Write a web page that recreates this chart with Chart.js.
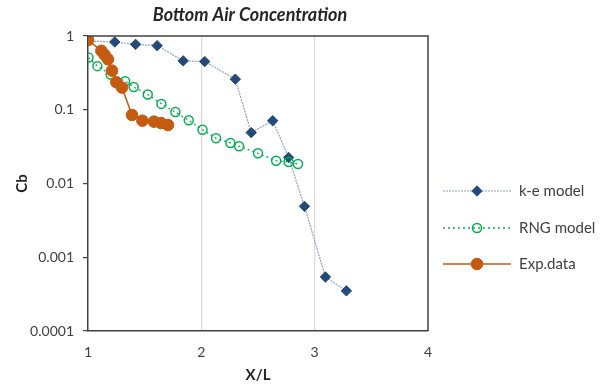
<!DOCTYPE html>
<html><head><meta charset="utf-8">
<script src="https://cdn.jsdelivr.net/npm/chart.js@4/dist/chart.umd.min.js"></script>
<style>html,body{margin:0;padding:0;background:#fff}#wrap{width:601px;height:388px}</style>
</head><body><div id="wrap"><canvas id="c" width="601" height="388"></canvas></div>
<script>
const chartTitle = "Bottom Air Concentration";
const xTitle = "X/L";
const yTitle = "Cb";
const seriesNames = ["k-e model", "RNG model", "Exp.data"];
const xTicks = [1, 2, 3, 4];
const yTicks = [0.0001, 0.001, 0.01, 0.1, 1];
const yTickLabels = ["0.0001", "0.001", "0.01", "0.1", "1"];

const keX = [1.0, 1.236, 1.42, 1.61, 1.84, 2.03, 2.30, 2.44, 2.63, 2.77, 2.91, 3.095, 3.28];
const keY = [0.855, 0.83, 0.77, 0.74, 0.46, 0.45, 0.26, 0.049, 0.071, 0.0225, 0.0049, 0.00054, 0.00035];

const rngX = [1.004, 1.083, 1.20, 1.327, 1.403, 1.527, 1.648, 1.771, 1.889, 2.01, 2.13, 2.257, 2.333, 2.50, 2.66, 2.77, 2.853];
const rngY = [0.51, 0.39, 0.30, 0.244, 0.204, 0.161, 0.12, 0.093, 0.072, 0.0537, 0.041, 0.0355, 0.032, 0.0257, 0.0204, 0.0196, 0.0184];

const expX = [1.0, 1.118, 1.147, 1.176, 1.212, 1.25, 1.30, 1.388, 1.48, 1.582, 1.644, 1.706];
const expY = [0.88, 0.63, 0.553, 0.483, 0.339, 0.236, 0.20, 0.085, 0.071, 0.069, 0.066, 0.062];

const pts = (xs, ys) => xs.map((x, i) => ({x: x, y: ys[i]}));
const FONT = "Lato, 'Open Sans', sans-serif";

const datasets = [
  {label: seriesNames[0], data: pts(keX, keY), borderColor: '#8ca3c2', borderWidth: 1.2, borderDash: [2, 1],
   pointStyle: 'rectRot', pointRadius: 5.2, pointBackgroundColor: '#24497a', pointBorderColor: '#24497a', pointBorderWidth: 1, order: 3},
  {label: seriesNames[1], data: pts(rngX, rngY), borderColor: '#00b050', borderWidth: 1.3, borderDash: [2, 3],
   pointStyle: 'circle', pointRadius: 4.5, pointBackgroundColor: 'rgba(255,255,255,0)', pointBorderColor: '#00b050', pointBorderWidth: 1.5, order: 2},
  {label: seriesNames[2], data: pts(expX, expY), borderColor: '#c55a11', borderWidth: 1.5,
   pointStyle: 'circle', pointRadius: 5.8, pointBackgroundColor: '#c55a11', pointBorderColor: '#c55a11', pointBorderWidth: 1, order: 1}
];

const extras = {
  id: 'extras',
  afterDraw(chart) {
    const ctx = chart.ctx, a = chart.chartArea;
    ctx.save();
    ctx.strokeStyle = '#404040'; ctx.lineWidth = 1.5;
    ctx.beginPath();
    ctx.moveTo(a.left, a.top); ctx.lineTo(a.right, a.top); ctx.lineTo(a.right, a.bottom);
    ctx.stroke();
    ctx.fillStyle = '#262626';
    ctx.font = "italic bold 18px " + FONT;
    ctx.textAlign = 'center'; ctx.textBaseline = 'middle';
    ctx.fillText(chartTitle, 250, 15);
    const rows = [191, 228, 264];
    ctx.font = "15px " + FONT;
    ctx.textAlign = 'left';
    chart.data.datasets.forEach((ds, i) => {
      const y = rows[i];
      ctx.strokeStyle = ds.borderColor; ctx.lineWidth = ds.borderWidth;
      ctx.setLineDash(ds.borderDash || []);
      ctx.beginPath(); ctx.moveTo(443, y); ctx.lineTo(511, y); ctx.stroke();
      ctx.setLineDash([]);
      ctx.fillStyle = ds.pointBackgroundColor; ctx.strokeStyle = ds.pointBorderColor; ctx.lineWidth = ds.pointBorderWidth;
      Chart.helpers.drawPoint(ctx, {pointStyle: ds.pointStyle, radius: ds.pointRadius, borderWidth: ds.pointBorderWidth, rotation: 0}, 477, y);
      ctx.fillStyle = '#404040';
      ctx.fillText(ds.label, 519, y);
    });
    ctx.restore();
  }
};

new Chart(document.getElementById('c'), {
  type: 'scatter',
  data: {datasets: datasets.map(d => Object.assign({showLine: true, fill: false, tension: 0}, d))},
  options: {
    responsive: false, animation: false, devicePixelRatio: 1,
    layout: {padding: {top: 36, right: 173, left: 0, bottom: 0}},
    plugins: {legend: {display: false}, title: {display: false}, tooltip: {enabled: false}},
    scales: {
      x: {
        type: 'linear', min: 1, max: 4,
        afterBuildTicks: s => { s.ticks = xTicks.map(v => ({value: v})); },
        afterFit: s => { s.height = 57; },
        ticks: {color: '#404040', font: {family: FONT, size: 14}, padding: 13, maxRotation: 0},
        grid: {color: ctx => (ctx.tick && (ctx.tick.value === 1 || ctx.tick.value === 4)) ? 'rgba(0,0,0,0)' : '#d9d9d9', lineWidth: 1.2, drawTicks: false},
        border: {color: '#404040', width: 1.5},
        title: {display: true, text: xTitle, color: '#262626', font: {family: FONT, size: 15, weight: 'bold'}, padding: {top: 0, bottom: 4}}
      },
      y: {
        type: 'logarithmic', min: 0.0001, max: 1,
        afterBuildTicks: s => { s.ticks = yTicks.map(v => ({value: v})); },
        afterFit: s => { s.width = 88; },
        ticks: {color: '#404040', font: {family: FONT, size: 14}, padding: 9,
          callback: (v) => { const i = yTicks.findIndex(t => Math.abs(t - v) / t < 1e-6); return i >= 0 ? yTickLabels[i] : ''; }},
        grid: {drawOnChartArea: false, drawTicks: true, tickLength: 5, color: '#404040', lineWidth: 1.2},
        border: {color: '#404040', width: 1.5},
        title: {display: true, text: yTitle, color: '#262626', font: {family: FONT, size: 15, weight: 'bold'}, padding: {top: 13, bottom: 0}}
      }
    }
  },
  plugins: [extras]
});
</script></body></html>
